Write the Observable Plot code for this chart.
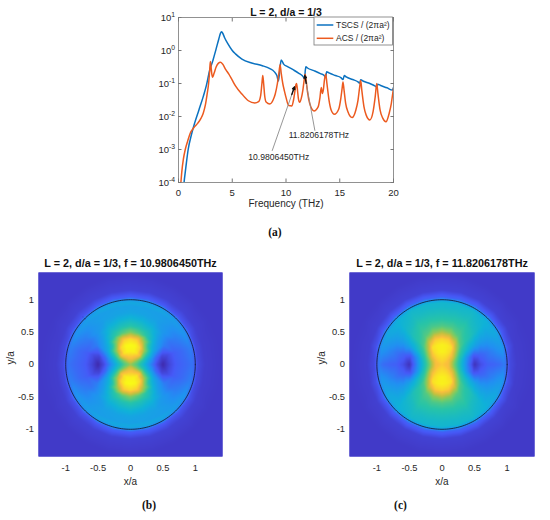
<!DOCTYPE html>
<html><head><meta charset="utf-8">
<script src="https://cdn.jsdelivr.net/npm/d3@7"></script>
<script src="https://cdn.jsdelivr.net/npm/@observablehq/plot@0.6"></script>
<style>
body{margin:0;background:#fff;}
#root{position:relative;width:550px;height:520px;background:#fff;font-family:"Liberation Sans",Arial,sans-serif;overflow:hidden;}
.cap{position:absolute;font-family:"Liberation Serif","Times New Roman",serif;font-size:11.5px;font-weight:bold;color:#111;transform:translate(-50%,-50%);white-space:nowrap;}
</style></head><body><div id="root"></div>
<script>
// ---------- Panel (a) data ----------
const freqTSCS = [0.45,0.55,0.7,0.9,1.2,1.5,1.9,2.3,2.6,2.9,3.2,3.5,3.75,3.9,4.0,4.1,4.3,4.6,5.0,5.3,5.9,6.8,7.8,8.5,8.9,9.15,9.3,9.42,9.55,9.8,10.1,10.7,11.2,11.5,11.65,11.73,11.79,11.85,12.0,12.6,13.2,13.55,13.68,13.78,14.0,14.6,15.1,15.3,15.42,15.6,16.2,16.7,16.85,16.95,17.2,17.8,18.3,18.42,18.52,18.8,19.4,19.9,20.0];
const valTSCS = [6.3e-5,1.26e-4,3.2e-4,1.0e-3,2.8e-3,6.3e-3,0.0158,0.040,0.089,0.251,0.50,1.12,2.24,3.31,3.72,3.39,2.40,1.58,1.0,0.79,0.55,0.417,0.347,0.282,0.229,0.174,0.120,0.251,0.513,0.380,0.331,0.257,0.204,0.174,0.151,0.138,0.240,0.324,0.295,0.245,0.200,0.174,0.151,0.229,0.209,0.174,0.151,0.132,0.174,0.158,0.132,0.112,0.102,0.129,0.117,0.100,0.083,0.078,0.095,0.087,0.074,0.063,0.076];
const freqACS = [0.2,0.3,0.45,0.63,0.85,1.1,1.4,1.8,2.1,2.3,2.5,2.65,2.8,2.9,2.96,3.03,3.1,3.17,3.3,3.5,3.7,3.9,4.1,4.4,4.67,5.0,5.3,5.9,6.5,7.1,7.45,7.65,7.76,7.84,7.92,8.02,8.15,8.5,8.8,9.0,9.2,9.35,9.45,9.55,9.7,9.85,10.0,10.25,10.55,10.7,10.83,10.93,10.98,11.05,11.15,11.27,11.42,11.57,11.69,11.78,11.88,12.0,12.2,12.6,13.0,13.15,13.28,13.38,13.47,13.59,13.7,13.8,14.0,14.2,14.5,14.9,15.1,15.22,15.3,15.4,15.55,15.75,16.15,16.5,16.7,16.85,16.95,17.05,17.25,17.45,17.8,18.1,18.3,18.44,18.55,18.75,19.0,19.3,19.6,19.8,19.93,20.0];
const valACS = [7.9e-5,2.0e-4,5.0e-4,1.0e-3,1.78e-3,3.16e-3,4.5e-3,6.3e-3,8.9e-3,0.0126,0.0224,0.0447,0.100,0.240,0.468,0.316,0.191,0.155,0.200,0.316,0.407,0.437,0.389,0.263,0.195,0.126,0.085,0.048,0.030,0.0257,0.0282,0.0447,0.100,0.174,0.100,0.0417,0.0275,0.024,0.0316,0.048,0.100,0.219,0.372,0.209,0.100,0.060,0.038,0.0214,0.0209,0.0316,0.059,0.093,0.100,0.071,0.0355,0.0269,0.0355,0.063,0.126,0.191,0.120,0.056,0.0251,0.0148,0.020,0.0355,0.076,0.050,0.063,0.138,0.19,0.105,0.0316,0.0158,0.0117,0.0166,0.0355,0.071,0.112,0.063,0.0251,0.0141,0.0093,0.0158,0.0316,0.076,0.123,0.063,0.020,0.0112,0.0079,0.0141,0.040,0.100,0.050,0.0158,0.0089,0.0069,0.0126,0.0251,0.050,0.071];
const seriesNames = ["TSCS / (2\u03c0a\u00b2)", "ACS / (2\u03c0a\u00b2)"];
const xTicksA = [0,5,10,15,20];
const yTicksA = [1e-4,1e-3,1e-2,1e-1,1e0,1e1];
const titleA = "L = 2, d/a = 1/3";
const xLabelA = "Frequency (THz)";
// annotation labels and arrows (data coordinates)
const annotLabels = ["10.9806450THz", "11.8206178THz"];
const annotTextF = [9.33, 13.06];
const annotTextV = [6.0e-4, 2.7e-3];
const arrowFromF = [8.71, 12.69];
const arrowFromV = [9.1e-4, 3.7e-3];
const arrowToF = [10.79, 11.75];
const arrowToV = [0.079, 0.174];

// ---------- Panels (b), (c) data: field magnitude sampled on a polar grid (one quadrant, mirror-symmetric) ----------
const sampleAngles = [0,15,30,45,60,75,90];
const sampleRadii = [0,0.1,0.2,0.3,0.4,0.5,0.6,0.7,0.8,0.9,0.96,1.0,1.04,1.15,1.4,2.1];
const fieldB = [
 [0.68,0.56,0.40,0.24,0.10,0.01,0.08,0.13,0.15,0.17,0.18,0.14,0.09,0.06,0.05,0.05],
 [0.68,0.60,0.47,0.32,0.17,0.08,0.10,0.14,0.16,0.19,0.21,0.16,0.09,0.06,0.05,0.05],
 [0.68,0.66,0.62,0.48,0.34,0.26,0.21,0.19,0.21,0.24,0.27,0.21,0.11,0.065,0.05,0.05],
 [0.68,0.74,0.86,0.68,0.47,0.37,0.31,0.28,0.27,0.28,0.30,0.24,0.12,0.07,0.05,0.05],
 [0.68,0.82,0.95,0.92,0.70,0.50,0.42,0.35,0.31,0.30,0.33,0.27,0.13,0.07,0.05,0.05],
 [0.68,0.86,0.98,0.99,0.90,0.58,0.46,0.38,0.32,0.31,0.34,0.28,0.14,0.07,0.05,0.05],
 [0.68,0.87,0.98,1.00,0.93,0.64,0.49,0.40,0.33,0.31,0.34,0.28,0.14,0.07,0.05,0.05]
];
const fieldC = [
 [0.90,0.86,0.60,0.40,0.20,0.03,0.10,0.14,0.15,0.17,0.20,0.15,0.09,0.06,0.05,0.05],
 [0.90,0.87,0.64,0.44,0.25,0.12,0.15,0.18,0.22,0.26,0.28,0.20,0.11,0.06,0.05,0.05],
 [0.90,0.88,0.76,0.54,0.43,0.35,0.31,0.29,0.30,0.33,0.34,0.26,0.13,0.065,0.05,0.05],
 [0.90,0.90,0.88,0.72,0.56,0.50,0.47,0.43,0.40,0.38,0.37,0.28,0.14,0.07,0.05,0.05],
 [0.90,0.92,0.94,0.94,0.76,0.58,0.53,0.50,0.45,0.42,0.40,0.30,0.15,0.07,0.05,0.05],
 [0.90,0.93,0.97,0.97,0.90,0.68,0.56,0.50,0.45,0.41,0.40,0.30,0.15,0.07,0.05,0.05],
 [0.90,0.94,0.98,0.98,0.92,0.72,0.57,0.50,0.45,0.41,0.40,0.30,0.15,0.07,0.05,0.05]
];
const titleB = "L = 2, d/a = 1/3, f = 10.9806450THz";
const titleC = "L = 2, d/a = 1/3, f = 11.8206178THz";
const hTicks = [-1,-0.5,0,0.5,1];
const captions = ["(a)", "(b)", "(c)"];

// ---------- styles ----------
const blue = "#0B72C0", orange = "#EC5A1F";
const parula = ["#3E26A8","#4659F7","#2190F2","#0FB2D8","#27C4A8","#70CC6B","#C5C03E","#FBBF3D","#F9FB15"];
const parulaInterp = d3.piecewise(d3.interpolateRgb, parula);
const font = "Liberation Sans, Arial, sans-serif";
const root = document.getElementById("root");
function place(el, left, top){ el.style.position="absolute"; el.style.left=left+"px"; el.style.top=top+"px"; root.appendChild(el); }

// ---------- Panel (a) ----------
const tscs = freqTSCS.map((f,i)=>({f, v: valTSCS[i]}));
const acs = freqACS.map((f,i)=>({f, v: valACS[i]}));
const annots = annotLabels.map((label,i)=>{
  const k = i === 0 ? 0.88 : 0.86;
  const lv0 = Math.log10(arrowFromV[i]), lv1 = Math.log10(arrowToV[i]);
  return {label, tf: annotTextF[i], tv: annotTextV[i], f0: arrowFromF[i], v0: arrowFromV[i], f1: arrowToF[i], v1: arrowToV[i],
    fh: arrowFromF[i] + k*(arrowToF[i]-arrowFromF[i]), vh: Math.pow(10, lv0 + k*(lv1-lv0))};
});
const expFmt = d => String(Math.round(Math.log10(d)));
const plotA = Plot.plot({
  width: 550, height: 215,
  marginLeft: 178, marginRight: 157, marginTop: 17, marginBottom: 33,
  style: {fontFamily: font, fontSize: "9.5px", color: "#262626", background: "transparent", overflow: "visible"},
  x: {domain: [0, 20]},
  y: {type: "log", domain: [1e-4, 10]},
  marks: [
    Plot.line(tscs, {x: "f", y: "v", stroke: blue, strokeWidth: 1.5, curve: "monotone-x", clip: true}),
    Plot.line(acs, {x: "f", y: "v", stroke: orange, strokeWidth: 1.5, curve: "monotone-x", clip: true}),
    Plot.link(annots, {x1: "f0", y1: "v0", x2: "f1", y2: "v1", stroke: "#8a8a8a", strokeWidth: 0.9}),
    Plot.arrow(annots, {x1: "fh", y1: "vh", x2: "f1", y2: "v1", stroke: "#111", strokeWidth: 1.4, headLength: 5, headAngle: 50}),
    Plot.text(annots, {x: "tf", y: "tv", text: "label", fontSize: 8.6, fill: "#262626", lineAnchor: "middle"}),
    Plot.frame({stroke: "#777", strokeWidth: 0.8}),
    Plot.axisX({ticks: xTicksA, tickSize: -3.5, tickPadding: 10, tickFormat: d => String(d), label: null, stroke: "#777"}),
    Plot.axisX({anchor: "top", ticks: xTicksA, tickSize: -3.5, tickFormat: () => "", label: null, stroke: "#777"}),
    Plot.axisY({ticks: yTicksA, tickSize: -3.5, tickPadding: 7, tickFormat: expFmt, label: null, stroke: "#777"}),
    Plot.axisY({anchor: "right", ticks: yTicksA, tickSize: -3.5, tickFormat: () => "", label: null, stroke: "#777"}),
    Plot.text([titleA], {text: d => d, frameAnchor: "top", dy: -4.5, lineAnchor: "middle", fontWeight: "bold", fontSize: 10.5, fill: "#111"}),
    Plot.text([xLabelA], {text: d => d, frameAnchor: "bottom", dy: 20.8, lineAnchor: "middle", fontSize: 10, fill: "#262626"})
  ]
});
// superscript exponents on log axis labels
d3.select(plotA).selectAll('g[aria-label="y-axis tick label"] text').each(function(){
  const t = d3.select(this);
  const e = t.text();
  if (e === "") return;
  t.text(null);
  t.append("tspan").text("10");
  t.append("tspan").attr("dy", "-0.5em").attr("font-size", "6.8px").text(e);
});
// legend box
{
  const g = d3.select(plotA).append("g").attr("text-anchor", "start");
  g.append("rect").attr("x", 314).attr("y", 17).attr("width", 78.5).attr("height", 28)
    .attr("fill", "#fff").attr("stroke", "#777").attr("stroke-width", 0.8);
  [blue, orange].forEach((c, i) => {
    const y = 25 + i * 13.3;
    g.append("line").attr("x1", 316.7).attr("x2", 333.3).attr("y1", y).attr("y2", y).attr("stroke", c).attr("stroke-width", 1.5);
    g.append("text").attr("x", 336).attr("y", y).attr("dy", "0.35em").attr("font-size", "8.5px")
      .attr("text-anchor", "start").attr("font-family", font).attr("fill", "#262626").text(seriesNames[i]);
  });
}
place(plotA, 0, 0);

// ---------- Panels (b), (c) ----------
function samplePoints(field){
  const seen = new Map();
  sampleAngles.forEach((a, i) => sampleRadii.forEach((r, j) => {
    const t = a * Math.PI / 180;
    for (const [sx, sy] of [[1,1],[-1,1],[1,-1],[-1,-1]]) {
      const x = +(sx * r * Math.cos(t)).toFixed(6), y = +(sy * r * Math.sin(t)).toFixed(6);
      const key = x + "," + y;
      if (!seen.has(key)) seen.set(key, {x, y, v: field[i][j]});
    }
  }));
  return Array.from(seen.values());
}
const circle = d3.range(0, 361, 2).map(a => ({x: Math.cos(a*Math.PI/180), y: Math.sin(a*Math.PI/180)}));
function heat(field, title, ml, mr){
  return Plot.plot({
    width: 275, height: 250, marginLeft: ml, marginRight: mr, marginTop: 22, marginBottom: 44,
    style: {fontFamily: font, fontSize: "9.3px", color: "#262626", background: "transparent", overflow: "visible"},
    x: {domain: [-1.42, 1.42]},
    y: {domain: [-1.42, 1.42]},
    color: {type: "linear", domain: [0, 1], interpolate: parulaInterp, clamp: true},
    marks: [
      Plot.frame({fill: parulaInterp(0.05), stroke: null}),
      Plot.raster(samplePoints(field), {x: "x", y: "y", fill: "v", interpolate: "barycentric"}),
      Plot.line(circle, {x: "x", y: "y", stroke: "#14142a", strokeWidth: 0.8}),
      Plot.axisX({ticks: hTicks, tickSize: 0, tickPadding: 8, tickFormat: d => String(d), label: null}),
      Plot.axisY({ticks: hTicks, tickSize: 0, tickPadding: 4.5, tickFormat: d => String(d), label: null}),
      Plot.text([title], {text: d => d, frameAnchor: "top", dy: -8.7, lineAnchor: "middle", fontWeight: "bold", fontSize: 10.8, fill: "#111"}),
      Plot.text(["x/a"], {text: d => d, frameAnchor: "bottom", dy: 24.8, lineAnchor: "middle", fontSize: 10, fill: "#262626"}),
      Plot.text(["y/a"], {text: d => d, frameAnchor: "left", dx: -27.7, lineAnchor: "middle", rotate: -90, fontSize: 10, fill: "#262626"})
    ]
  });
}
place(heat(fieldB, titleB, 38, 53), 0, 250);
place(heat(fieldC, titleC, 74, 16), 275, 250);

// captions
[[captions[0], 275, 232], [captions[1], 149, 505], [captions[2], 400.5, 505]].forEach(([t, x, y]) => {
  const d = document.createElement("div");
  d.className = "cap"; d.textContent = t;
  d.style.left = x + "px"; d.style.top = y + "px";
  root.appendChild(d);
});
</script></body></html>
